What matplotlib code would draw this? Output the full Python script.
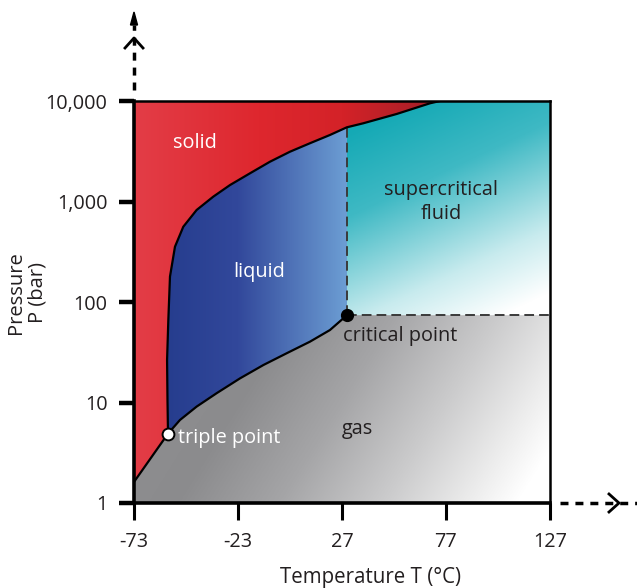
import numpy as np
import matplotlib
matplotlib.use('Agg')
import matplotlib.pyplot as plt
from matplotlib.patches import Polygon
from matplotlib.colors import to_rgb

plt.rcParams['font.family'] = ['Open Sans', 'DejaVu Sans']

# axis ranges and ticks
T_MIN, T_MAX = -73, 127
P_MIN, P_MAX = 1, 10000
x_ticks = [-73, -23, 27, 77, 127]
y_ticks = [1, 10, 100, 1000, 10000]
y_tick_labels = ['1', '10', '100', '1,000', '10,000']

# special points (T in degC, P in bar)
T_TRIPLE, P_TRIPLE = -56.65, 4.9
T_CRIT, P_CRIT = 29.4, 74
P_DASH_TOP = 5500

# phase boundaries
T_sub = [-73, -56.65]
P_sub = [1.62, 4.9]

T_vap = [-56.65, -50.9, -42.9, -33.2, -22.0, -10.8, 0.4, 11.6, 21.2, 29.4]
P_vap = [4.9, 6.7, 9.1, 12.4, 17.4, 23.6, 30.9, 40.3, 52.6, 74]

T_melt = [-56.65, -56.9, -57.1, -56.5, -55.7, -53.3, -49.3, -42.9, -34.9, -26.8, -17.2,
          -7.6, 2.0, 11.6, 21.2, 29.3, 37.2, 53.3, 69.3, 74.1]
P_melt = [4.9, 10.6, 26.5, 66, 179, 355, 561, 823, 1117, 1460, 1910,
          2490, 3130, 3800, 4590, 5470, 6000, 7430, 9490, 10000]


def ramp(t, stops):
    pos = [s[0] for s in stops]
    cols = np.array([to_rgb(s[1]) for s in stops])
    out = np.zeros(t.shape + (4,))
    for c in range(3):
        out[..., c] = np.interp(t, pos, cols[:, c])
    out[..., 3] = 1.0
    return out


fig = plt.figure(figsize=(6.37, 5.88), dpi=100)
ax = fig.add_axes([134 / 637, 1 - 503 / 588, 416 / 637, 402 / 588])
ax.set_yscale('log')
ax.set_xlim(T_MIN, T_MAX)
ax.set_ylim(P_MIN, P_MAX)
ax.set_autoscale_on(False)

# gradient fills (axes coords)
N = 900
u, v = np.meshgrid(np.linspace(0, 1, N), np.linspace(0, 1, N))
u_crit = (T_CRIT - T_MIN) / (T_MAX - T_MIN)

solid_img = ramp(u, [(0, '#e33d47'), (0.3, '#de272e'), (0.5, '#d42228'),
                     (0.7, '#a91f27'), (1, '#a91f27')])
liquid_img = ramp(u, [(0.08, '#263d8e'), (0.25, '#32489b'), (0.51, '#6c9dd3')])
liquid_img[..., 3] = (u < u_crit).astype(float)
t_sc = 0.45 * (u - 0.51) / 0.49 + (1 - v) / 0.53
sc_img = ramp(t_sc, [(0.15, '#14a9b5'), (0.55, '#3fb9c4'), (1.05, '#c8ebee'), (1.35, '#ffffff')])
sc_img[..., 3] = (u >= u_crit).astype(float)
gas_img = ramp(u - 0.6 * v, [(-0.1, '#8e8e90'), (0.1, '#8b8b8d'), (0.35, '#a5a5a7'),
                             (0.6, '#cbcbcc'), (0.8, '#ececec'), (0.92, '#ffffff')])

solid_xy = list(zip(T_sub, P_sub)) + list(zip(T_melt[1:], P_melt[1:])) + [(T_MIN, P_MAX)]
fluid_xy = list(zip(T_melt, P_melt)) + [(T_MAX, P_MAX), (T_MAX, P_CRIT)] + list(zip(T_vap[::-1], P_vap[::-1]))
gas_xy = list(zip(T_sub, P_sub)) + list(zip(T_vap[1:], P_vap[1:])) + \
    [(T_MAX, P_CRIT), (T_MAX, P_MIN), (T_MIN, P_MIN)]

for img, xy in [(solid_img, solid_xy), (liquid_img, fluid_xy), (sc_img, fluid_xy), (gas_img, gas_xy)]:
    im = ax.imshow(img, extent=(0, 1, 0, 1), transform=ax.transAxes, origin='lower',
                   aspect='auto', interpolation='nearest', zorder=0.5)
    clip = Polygon(xy, closed=True, transform=ax.transData)
    im.set_clip_path(clip)

# dashed boundaries of the supercritical region
ax.plot([T_CRIT, T_CRIT], [P_CRIT, P_DASH_TOP], color='#3a3a3a', lw=1.4, dashes=(5, 2.6), zorder=2)
ax.plot([T_CRIT, T_MAX], [P_CRIT, P_CRIT], color='#3a3a3a', lw=1.4, dashes=(5, 2.6), zorder=2)

# phase boundaries
ax.plot(T_sub, P_sub, color='k', lw=1.6, zorder=3, solid_joinstyle='round')
ax.plot(T_vap, P_vap, color='k', lw=1.6, zorder=3, solid_joinstyle='round')
ax.plot(T_melt, P_melt, color='k', lw=1.6, zorder=3, solid_joinstyle='round')

ax.plot(T_CRIT, P_CRIT, 'o', color='k', ms=8.5, zorder=4)
ax.plot(T_TRIPLE, P_TRIPLE, 'o', mfc='white', mec='k', ms=8.5, mew=1.4, zorder=4)

# region labels
FS = 14.3
ax.text(-43.7, 3820, 'solid', color='white', fontsize=FS, ha='center', va='center')
ax.text(-12.9, 199, 'liquid', color='white', fontsize=FS, ha='center', va='center')
ax.text(74.6, 988, 'supercritical\nfluid', color='#231f20', fontsize=FS, ha='center',
        va='center', linespacing=1.3)
ax.text(27.5, 45.9, 'critical point', color='#231f20', fontsize=FS, ha='left', va='center')
ax.text(-51.8, 4.43, 'triple point', color='white', fontsize=FS, ha='left', va='center')
ax.text(27.0, 5.5, 'gas', color='#231f20', fontsize=FS, ha='left', va='center')

# axes styling
ax.set_xticks(x_ticks)
ax.set_xticklabels([str(t) for t in x_ticks])
ax.set_yticks(y_ticks)
ax.set_yticklabels(y_tick_labels)
ax.minorticks_off()
ax.tick_params(axis='y', length=11, width=3.2, pad=8, labelsize=FS, colors='k', labelcolor='#231f20')
ax.tick_params(axis='x', length=12, width=2.2, pad=9, labelsize=FS, colors='k', labelcolor='#231f20')
for side in ['left', 'bottom']:
    ax.spines[side].set_linewidth(2.6)
for side in ['top', 'right']:
    ax.spines[side].set_linewidth(1.8)
for sp in ax.spines.values():
    sp.set_zorder(5)

fig.text(370 / 637, 1 - 577 / 588, 'Temperature T (°C)', fontsize=14.8, ha='center', va='center',
         color='#231f20')
fig.text(27 / 637, 1 - 293 / 588, 'Pressure\nP (bar)', fontsize=14.5, ha='center', va='center',
         rotation=90, color='#231f20', linespacing=1.1)

# arrows continuing the axes (pixel overlay)
ov = fig.add_axes([0, 0, 1, 1], zorder=10)
ov.set_xlim(0, 637)
ov.set_ylim(588, 0)
ov.axis('off')
ov.plot([134, 134], [90, 25], color='k', lw=2.5, dashes=(2.3, 2.0))
ov.fill([130.5, 134, 137.5], [25, 12, 25], color='k')
ov.plot([125, 134, 143], [48, 38, 48], color='k', lw=2)
ov.plot([560, 637], [503, 503], color='k', lw=2.5, dashes=(2.3, 2.0))
ov.plot([609, 619, 609], [494, 503, 512], color='k', lw=2)

fig.savefig('out.png', dpi=100)
